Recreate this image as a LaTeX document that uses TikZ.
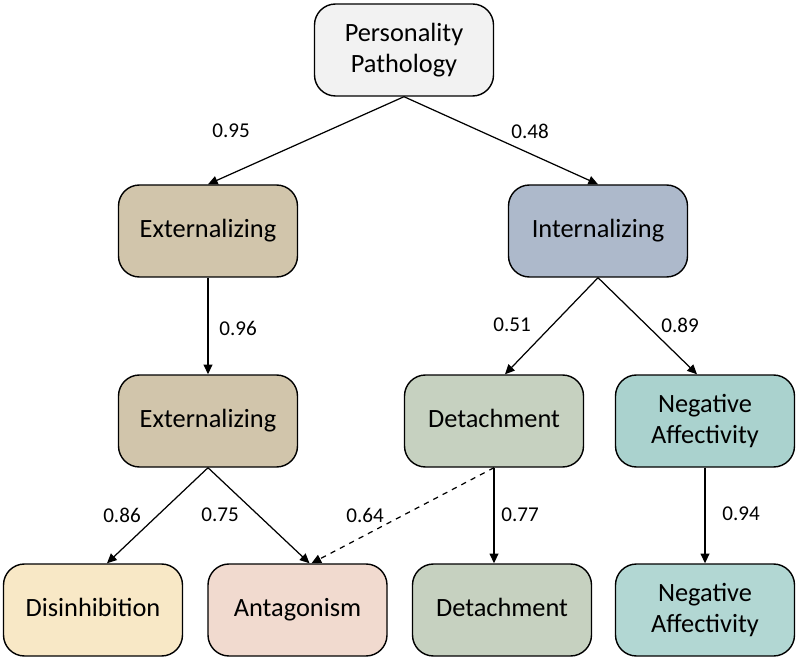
\documentclass[tikz,border=0pt]{standalone}
\usepackage{fontspec}
\setmainfont{Carlito}
\usepackage{xcolor}
\usepackage{tikz}
\usetikzlibrary{shapes, arrows.meta, positioning}

\definecolor{ppfill}{HTML}{F2F2F2}
\definecolor{extfill}{HTML}{D1C5AB}
\definecolor{intfill}{HTML}{ADB9CB}
\definecolor{detfill}{HTML}{C6D1C0}
\definecolor{nafill}{HTML}{AAD2CE}
\definecolor{disfill}{HTML}{F8E8C6}
\definecolor{antfill}{HTML}{F1DACF}

\tikzset{
    factor/.style={draw, line width=0.8pt, rounded corners=0.42cm, align=center,
        minimum width=3.58cm, minimum height=1.84cm, inner sep=0pt,
        font=\fontsize{15}{18}\selectfont},
    loading/.style={font=\fontsize{12}{14}\selectfont},
    path/.style={-{Triangle[length=5.5pt,width=5pt]}, line width=0.7pt}
}

\begin{document}
\begin{tikzpicture}
        \useasboundingbox (0,0) rectangle (16,-13.26);

        % factors
        \node[factor, fill=ppfill] (pp) at (8.08,-1.0) {Personality\\Pathology};
        \node[factor, fill=extfill] (ext1) at (4.16,-4.62) {Externalizing\strut};
        \node[factor, fill=intfill] (int) at (11.96,-4.62) {Internalizing\strut};
        \node[factor, fill=extfill] (ext2) at (4.16,-8.42) {Externalizing\strut};
        \node[factor, fill=detfill] (det1) at (9.88,-8.42) {Detachment\strut};
        \node[factor, fill=nafill] (na1) at (14.1,-8.42) {Negative\\Affectivity};
        \node[factor, fill=disfill] (dis) at (1.86,-12.2) {Disinhibition\strut};
        \node[factor, fill=antfill] (ant) at (5.95,-12.2) {Antagonism\strut};
        \node[factor, fill=detfill] (det2) at (10.04,-12.2) {Detachment\strut};
        \node[factor, fill=nafill!90!white] (na2) at (14.1,-12.2) {Negative\\Affectivity};

        % paths
        \draw[path] (pp.south) -- (ext1.north);
        \draw[path] (pp.south) -- (int.north);
        \draw[path] (ext1.south) -- (ext2.north);
        \draw[path] (int.south) -- ([xshift=0.22cm]det1.north);
        \draw[path] (int.south) -- ([xshift=-0.16cm]na1.north);
        \draw[path] (ext2.south) -- ([xshift=0.28cm]dis.north);
        \draw[path] (ext2.south) -- ([xshift=0.24cm]ant.north);
        \draw[path, dashed] (det1.south) -- ([xshift=0.28cm]ant.north);
        \draw[path] (det1.south) -- (det1.south |- det2.north);
        \draw[path] (na1.south) -- (na2.north);

        % loadings
        \node[loading] (l1) at (4.62,-2.62) {0.95};
        \node[loading] (l2) at (10.6,-2.62) {0.48};
        \node[loading] (l3) at (4.76,-6.56) {0.96};
        \node[loading] (l4) at (10.24,-6.5) {0.51};
        \node[loading] (l5) at (13.6,-6.5) {0.89};
        \node[loading] (l6) at (2.44,-10.3) {0.86};
        \node[loading] (l7) at (4.4,-10.3) {0.75};
        \node[loading] (l8) at (7.3,-10.3) {0.64};
        \node[loading] (l9) at (10.4,-10.3) {0.77};
        \node[loading] (l10) at (14.82,-10.28) {0.94};
    \end{tikzpicture}
\end{document}
